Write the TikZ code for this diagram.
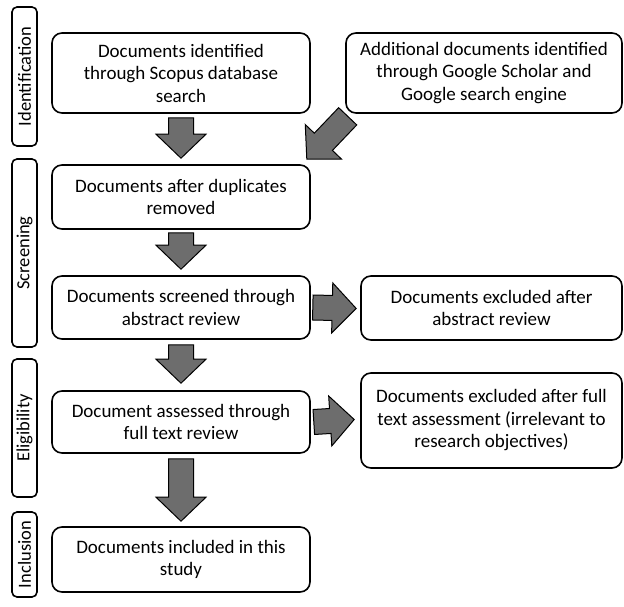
\documentclass[tikz,border=0pt]{standalone}
\usepackage{fontspec}
\setmainfont{Carlito}
\usetikzlibrary{calc}
\definecolor{arrowgray}{RGB}{109,109,109}
\tikzset{
  box/.style={draw, line width=1.6pt, rounded corners=10pt, align=center,
    inner sep=0pt, font=\fontsize{19}{22.5}\selectfont},
  phase/.style={draw, line width=1.6pt, rounded corners=5pt, rotate=90,
    inner sep=0pt, minimum height=25pt, font=\fontsize{18.5}{20}\selectfont},
  % block arrow: shaft 25pt wide, head 50pt wide and 24pt long
  fat/.style={draw=black, line width=1pt, fill=arrowgray, line join=miter,
    to path={let \p1=(\tikztostart), \p2=(\tikztotarget),
      \n1={atan2(\y2-\y1,\x2-\x1)}, \n2={veclen(\x2-\x1,\y2-\y1)},
      \n3={\n2-24pt} in
      ($(\p1)+(\n1-90:12.5pt)$)
      -- ($(\p1)+(\n1:\n3)+(\n1-90:12.5pt)$)
      -- ($(\p1)+(\n1:\n3)+(\n1-90:25pt)$)
      -- (\p2)
      -- ($(\p1)+(\n1:\n3)+(\n1+90:25pt)$)
      -- ($(\p1)+(\n1:\n3)+(\n1+90:12.5pt)$)
      -- ($(\p1)+(\n1+90:12.5pt)$) -- cycle}}
}
\begin{document}
\begin{tikzpicture}[x=1pt,y=-1pt]
\useasboundingbox (0,0) rectangle (624,607);

% phase labels
\node[phase, minimum width=139pt] (pid) at (24.5,76.5) {Identification};
\node[phase, minimum width=188pt] (psc) at (24.5,253) {Screening};
\node[phase, minimum width=138pt] (pel) at (24.5,428) {Eligibility};
\node[phase, minimum width=85pt]  (pin) at (24.5,554.5) {Inclusion};

% main column
\node[box, minimum width=258pt, minimum height=80pt] (b1) at (181,73)
  {Documents identified\\through Scopus database\\search};
\node[box, minimum width=258pt, minimum height=64pt] (b3) at (181,197)
  {Documents after duplicates\\removed};
\node[box, minimum width=258pt, minimum height=63pt] (b4) at (181,307.5)
  {Documents screened through\\abstract review};
\node[box, minimum width=258pt, minimum height=62pt] (b6) at (181,422)
  {Document assessed through\\full text review};
\node[box, minimum width=258pt, minimum height=65pt] (b8) at (181,559.5)
  {Documents included in this\\study};

% side column
\node[box, minimum width=276pt, minimum height=80pt] (b2) at (484,73)
  {Additional documents identified\\through Google Scholar and\\Google search engine};
\node[box, minimum width=261pt, minimum height=64pt] (b5) at (491.5,308)
  {Documents excluded after\\abstract review};
\node[box, minimum width=261pt, minimum height=95pt] (b7) at (491.5,420.5)
  {Documents excluded after full\\text assessment (irrelevant to\\research objectives)};

% block arrows
\path[fat] ([yshift=-4pt]b1.south) to ([yshift=6pt]b3.north);
\path[fat] ([yshift=-3pt]b3.south) to ([yshift=6pt]b4.north);
\path[fat] ([yshift=-5pt]b4.south) to ([yshift=7pt]b6.north);
\path[fat] ([yshift=-5pt]b6.south) to ([yshift=5pt]b8.north);
\path[fat] ([xshift=2pt]b4.east) to ([xshift=-4pt,yshift=-0.5pt]b5.west);
\path[fat] ([xshift=3pt]b6.east) to ([xshift=-6pt,yshift=1pt]b7.west);
\path[fat] ([xshift=2.5pt,yshift=-2.5pt]b2.south west) to ([xshift=-4pt,yshift=5pt]b3.north east);
\end{tikzpicture}
\end{document}
